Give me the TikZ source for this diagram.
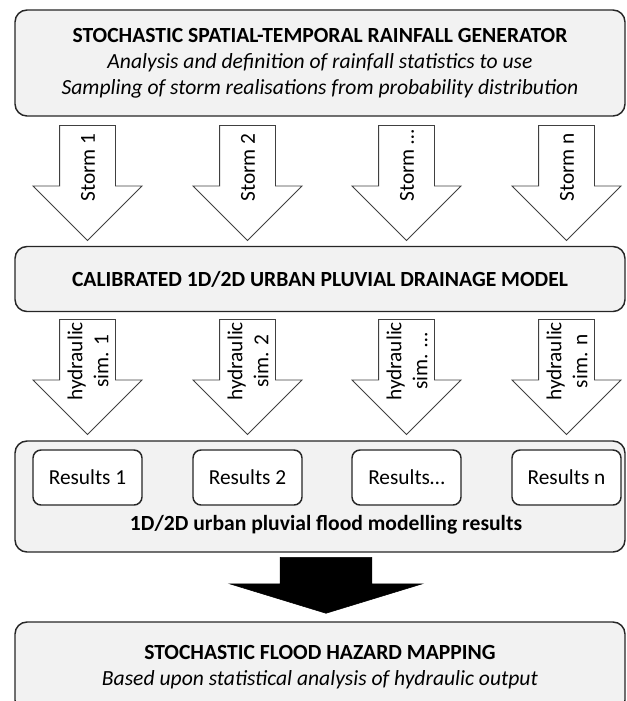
\documentclass[tikz,border=0pt]{standalone}
\usepackage[dvipsnames]{xcolor}
\usepackage{fontspec}
\setmainfont{Carlito}
\usetikzlibrary{shapes.arrows}

\begin{document}
\begin{tikzpicture}[x=0.75pt,y=-0.75pt,font=\fontsize{16}{19.5}\selectfont,
    big box/.style={draw=black!85,fill=black!5,line width=1.1pt,rounded corners=9pt,minimum width=457.5pt,inner sep=0pt,align=center,font=\fontsize{16.2}{19.5}\selectfont},
    res box/.style={draw=black!85,fill=white,line width=1.1pt,rounded corners=6pt,minimum width=81.75pt,minimum height=41.25pt,inner sep=0pt},
    white arrow/.style={single arrow,draw=black!75,fill=white,line width=0.7pt,rotate=-90,anchor=tail,inner xsep=0pt,inner ysep=20.625pt,single arrow head extend=19.875pt,single arrow tip angle=90,minimum height=86.25pt},
    arrow text/.style={rotate=90,anchor=west,align=center,inner sep=0pt}]

    \useasboundingbox (0,0) rectangle (627,701);

    \node[big box, minimum height=79.5pt] (gen) at (320,63) {\textbf{STOCHASTIC SPATIAL-TEMPORAL RAINFALL GENERATOR}\\ \textit{Analysis and definition of rainfall statistics to use}\\ \textit{Sampling of storm realisations from probability distribution}};
    \node[big box, minimum height=48.75pt] (model) at (320,279) {\textbf{CALIBRATED 1D/2D URBAN PLUVIAL DRAINAGE MODEL}};
    \node[big box, minimum height=83.25pt] (res) at (320,496.5) {};
    \node[big box, minimum height=67.5pt] (map) at (320,667) {\textbf{STOCHASTIC FLOOD HAZARD MAPPING}\\ \textit{Based upon statistical analysis of hydraulic output}};

    % storms
    \node[white arrow] (s1) at (87.5,125) {};
    \node[white arrow] (s2) at (247.5,125) {};
    \node[white arrow] (s3) at (406.5,125) {};
    \node[white arrow] (s4) at (566.5,125) {};
    \node[arrow text] (ts1) at (88,202) {Storm 1};
    \node[arrow text] (ts2) at (248,202) {Storm 2};
    \node[arrow text] (ts3) at (407,202) {Storm …};
    \node[arrow text] (ts4) at (567,202) {Storm n};

    % hydraulic simulations
    \node[white arrow] (h1) at (87.5,319) {};
    \node[white arrow] (h2) at (247.5,319) {};
    \node[white arrow] (h3) at (406.5,319) {};
    \node[white arrow] (h4) at (566.5,319) {};
    \node[arrow text] (th1) at (88,401) {hydraulic\\ sim. 1};
    \node[arrow text] (th2) at (248,401) {hydraulic\\ sim. 2};
    \node[arrow text] (th3) at (407,401) {hydraulic\\ sim. …};
    \node[arrow text] (th4) at (567,401) {hydraulic\\ sim. n};

    \node[res box] (r1) at (87.5,477.5) {Results 1};
    \node[res box] (r2) at (247.5,477.5) {Results 2};
    \node[res box] (r3) at (406.5,477.5) {Results…};
    \node[res box] (r4) at (566.5,477.5) {Results n};
    \node[font=\fontsize{16.2}{19.5}\selectfont] (cap) at (326,525) {\textbf{1D/2D urban pluvial flood modelling results}};

    \node[single arrow,fill=black,draw=black,rotate=-90,anchor=tail,inner xsep=0pt,inner ysep=34.125pt,single arrow head extend=37.875pt,single arrow tip angle=146,minimum height=42pt] (big) at (326,557) {};

\end{tikzpicture}
\end{document}
